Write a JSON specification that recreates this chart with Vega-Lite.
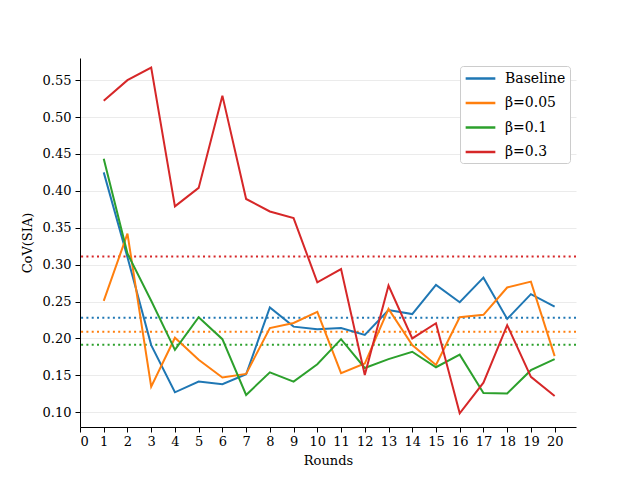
{
  "$schema": "https://vega.github.io/schema/vega-lite/v6.json",
  "width": 496,
  "height": 369,
  "autosize": {"type": "none"},
  "padding": {"left": 80, "top": 58, "right": 64, "bottom": 53},
  "background": "white",
  "config": {
    "view": {"stroke": null},
    "font": "DejaVu Serif",
    "axis": {
      "labelFont": "DejaVu Serif",
      "titleFont": "DejaVu Serif",
      "labelFontSize": 13,
      "titleFontSize": 13,
      "titleFontWeight": "normal",
      "labelColor": "#000",
      "titleColor": "#000",
      "domainColor": "#000",
      "domainWidth": 1,
      "tickColor": "#000",
      "tickSize": 5,
      "tickWidth": 1
    },
    "legend": {
      "labelFont": "DejaVu Serif",
      "labelFontSize": 14,
      "labelColor": "#000"
    }
  },
  "datasets": {
    "series": [
      {"round": 1, "value": 0.425, "series": "Baseline"},
      {"round": 2, "value": 0.310, "series": "Baseline"},
      {"round": 3, "value": 0.191, "series": "Baseline"},
      {"round": 4, "value": 0.127, "series": "Baseline"},
      {"round": 5, "value": 0.1415, "series": "Baseline"},
      {"round": 6, "value": 0.138, "series": "Baseline"},
      {"round": 7, "value": 0.1515, "series": "Baseline"},
      {"round": 8, "value": 0.242, "series": "Baseline"},
      {"round": 9, "value": 0.216, "series": "Baseline"},
      {"round": 10, "value": 0.2125, "series": "Baseline"},
      {"round": 11, "value": 0.214, "series": "Baseline"},
      {"round": 12, "value": 0.2047, "series": "Baseline"},
      {"round": 13, "value": 0.2386, "series": "Baseline"},
      {"round": 14, "value": 0.233, "series": "Baseline"},
      {"round": 15, "value": 0.2725, "series": "Baseline"},
      {"round": 16, "value": 0.249, "series": "Baseline"},
      {"round": 17, "value": 0.2824, "series": "Baseline"},
      {"round": 18, "value": 0.2264, "series": "Baseline"},
      {"round": 19, "value": 0.260, "series": "Baseline"},
      {"round": 20, "value": 0.243, "series": "Baseline"},
      {"round": 1, "value": 0.251, "series": "β=0.05"},
      {"round": 2, "value": 0.342, "series": "β=0.05"},
      {"round": 3, "value": 0.1347, "series": "β=0.05"},
      {"round": 4, "value": 0.201, "series": "β=0.05"},
      {"round": 5, "value": 0.171, "series": "β=0.05"},
      {"round": 6, "value": 0.147, "series": "β=0.05"},
      {"round": 7, "value": 0.152, "series": "β=0.05"},
      {"round": 8, "value": 0.214, "series": "β=0.05"},
      {"round": 9, "value": 0.221, "series": "β=0.05"},
      {"round": 10, "value": 0.236, "series": "β=0.05"},
      {"round": 11, "value": 0.153, "series": "β=0.05"},
      {"round": 12, "value": 0.166, "series": "β=0.05"},
      {"round": 13, "value": 0.240, "series": "β=0.05"},
      {"round": 14, "value": 0.191, "series": "β=0.05"},
      {"round": 15, "value": 0.164, "series": "β=0.05"},
      {"round": 16, "value": 0.2287, "series": "β=0.05"},
      {"round": 17, "value": 0.232, "series": "β=0.05"},
      {"round": 18, "value": 0.269, "series": "β=0.05"},
      {"round": 19, "value": 0.277, "series": "β=0.05"},
      {"round": 20, "value": 0.176, "series": "β=0.05"},
      {"round": 1, "value": 0.4436, "series": "β=0.1"},
      {"round": 2, "value": 0.315, "series": "β=0.1"},
      {"round": 3, "value": 0.251, "series": "β=0.1"},
      {"round": 4, "value": 0.1845, "series": "β=0.1"},
      {"round": 5, "value": 0.2287, "series": "β=0.1"},
      {"round": 6, "value": 0.199, "series": "β=0.1"},
      {"round": 7, "value": 0.1234, "series": "β=0.1"},
      {"round": 8, "value": 0.154, "series": "β=0.1"},
      {"round": 9, "value": 0.1415, "series": "β=0.1"},
      {"round": 10, "value": 0.165, "series": "β=0.1"},
      {"round": 11, "value": 0.199, "series": "β=0.1"},
      {"round": 12, "value": 0.160, "series": "β=0.1"},
      {"round": 13, "value": 0.172, "series": "β=0.1"},
      {"round": 14, "value": 0.182, "series": "β=0.1"},
      {"round": 15, "value": 0.161, "series": "β=0.1"},
      {"round": 16, "value": 0.178, "series": "β=0.1"},
      {"round": 17, "value": 0.126, "series": "β=0.1"},
      {"round": 18, "value": 0.1255, "series": "β=0.1"},
      {"round": 19, "value": 0.157, "series": "β=0.1"},
      {"round": 20, "value": 0.172, "series": "β=0.1"},
      {"round": 1, "value": 0.522, "series": "β=0.3"},
      {"round": 2, "value": 0.550, "series": "β=0.3"},
      {"round": 3, "value": 0.567, "series": "β=0.3"},
      {"round": 4, "value": 0.379, "series": "β=0.3"},
      {"round": 5, "value": 0.404, "series": "β=0.3"},
      {"round": 6, "value": 0.529, "series": "β=0.3"},
      {"round": 7, "value": 0.389, "series": "β=0.3"},
      {"round": 8, "value": 0.372, "series": "β=0.3"},
      {"round": 9, "value": 0.363, "series": "β=0.3"},
      {"round": 10, "value": 0.276, "series": "β=0.3"},
      {"round": 11, "value": 0.294, "series": "β=0.3"},
      {"round": 12, "value": 0.1505, "series": "β=0.3"},
      {"round": 13, "value": 0.2716, "series": "β=0.3"},
      {"round": 14, "value": 0.200, "series": "β=0.3"},
      {"round": 15, "value": 0.2206, "series": "β=0.3"},
      {"round": 16, "value": 0.0986, "series": "β=0.3"},
      {"round": 17, "value": 0.140, "series": "β=0.3"},
      {"round": 18, "value": 0.218, "series": "β=0.3"},
      {"round": 19, "value": 0.148, "series": "β=0.3"},
      {"round": 20, "value": 0.122, "series": "β=0.3"}
    ],
    "means": [
      {"series": "Baseline", "mean": 0.228},
      {"series": "β=0.05", "mean": 0.209},
      {"series": "β=0.1", "mean": 0.1916},
      {"series": "β=0.3", "mean": 0.311}
    ]
  },
  "layer": [
    {
      "data": {"name": "means"},
      "mark": {"type": "rule", "strokeWidth": 2, "strokeDash": [2, 3.3], "clip": true},
      "encoding": {
        "y": {"field": "mean", "type": "quantitative"},
        "color": {"field": "series", "type": "nominal"}
      }
    },
    {
      "data": {"name": "series"},
      "mark": {"type": "line", "strokeWidth": 2, "clip": true},
      "encoding": {
        "x": {
          "field": "round",
          "type": "quantitative",
          "title": "Rounds",
          "scale": {"domain": [0, 20.9], "nice": false, "zero": false},
          "axis": {
            "values": [0,1,2,3,4,5,6,7,8,9,10,11,12,13,14,15,16,17,18,19,20],
            "format": "d",
            "grid": false,
            "labelPadding": 3,
            "titlePadding": 6
          }
        },
        "y": {
          "field": "value",
          "type": "quantitative",
          "title": "CoV(SIA)",
          "scale": {"domain": [0.08, 0.58], "nice": false, "zero": false},
          "axis": {
            "values": [0.10,0.15,0.20,0.25,0.30,0.35,0.40,0.45,0.50,0.55],
            "format": ".2f",
            "grid": true,
            "gridColor": "#ebebeb",
            "gridWidth": 1,
            "labelPadding": 4,
            "titlePadding": 8
          }
        },
        "color": {
          "field": "series",
          "type": "nominal",
          "scale": {
            "domain": ["Baseline", "β=0.05", "β=0.1", "β=0.3"],
            "range": ["#1f77b4", "#ff7f0e", "#2ca02c", "#d62728"]
          },
          "legend": {
            "title": null,
            "orient": "none",
            "legendX": 380,
            "legendY": 8,
            "symbolType": "M-2.1,0L2.1,0",
            "symbolStrokeWidth": 2.5,
            "symbolDash": [],
            "symbolSize": 200,
            "symbolOffset": 8,
            "rowPadding": 8.5,
            "labelOffset": 16,
            "padding": 4,
            "strokeColor": "#cccccc",
            "fillColor": "white",
            "cornerRadius": 3
          }
        },
        "detail": {"field": "series"}
      }
    }
  ]
}
